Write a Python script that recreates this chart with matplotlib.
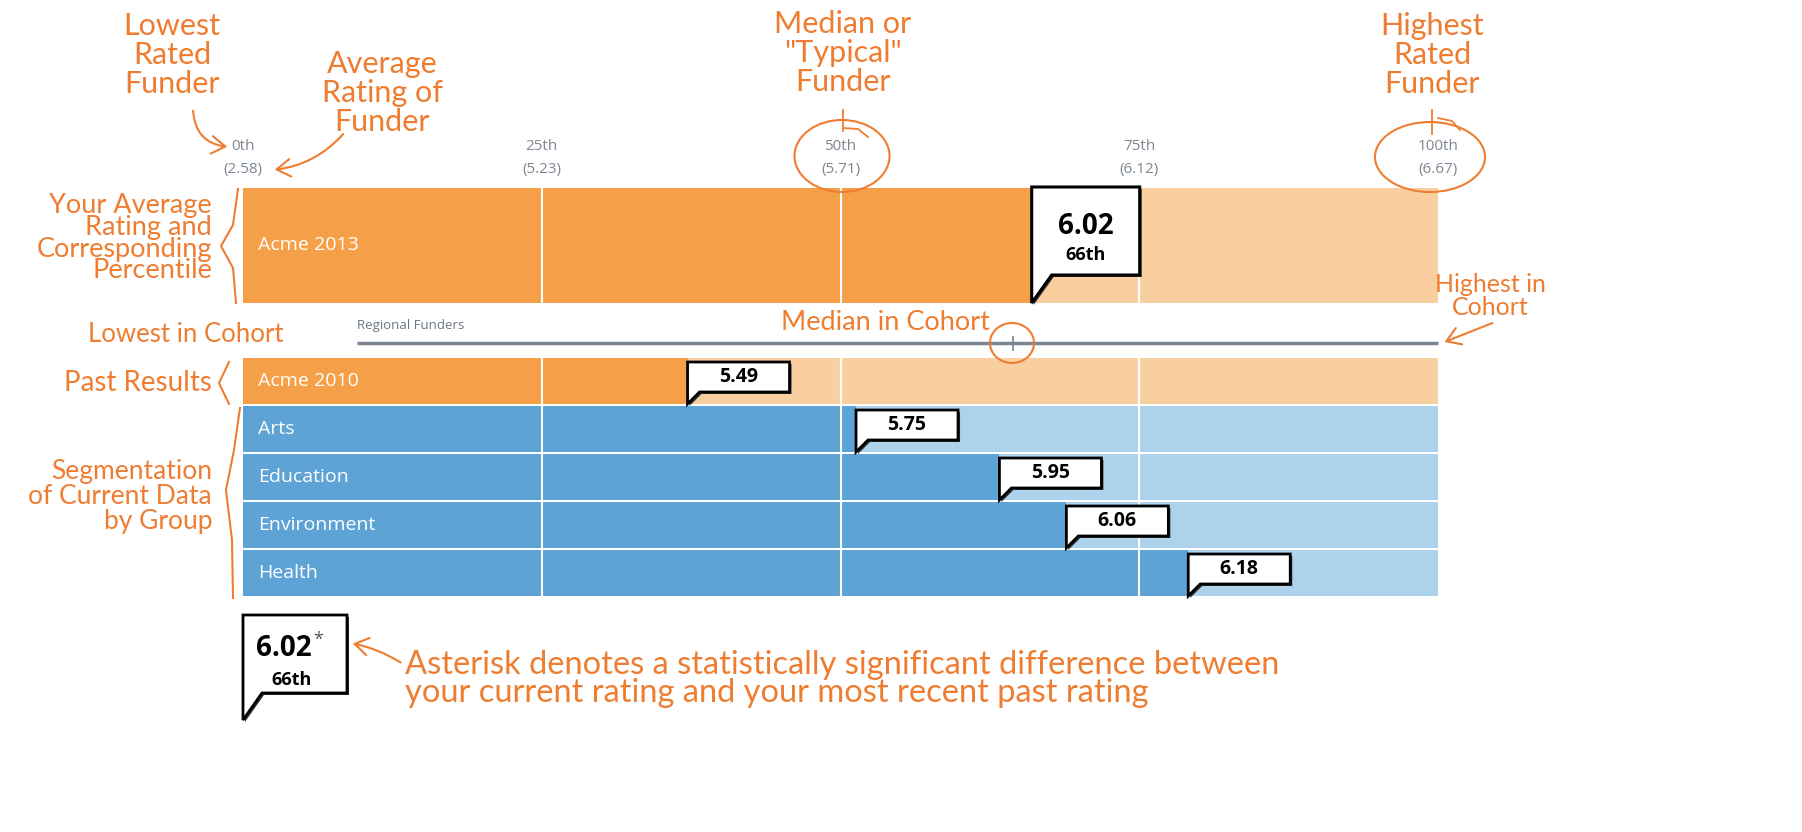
import matplotlib.pyplot as plt
from matplotlib.patches import Polygon, Ellipse, FancyArrowPatch

# данные
tick_pct = [0, 25, 50, 75, 100]
tick_names = ["0th", "25th", "50th", "75th", "100th"]
tick_vals = ["2.58", "5.23", "5.71", "6.12", "6.67"]

current_label = "Acme 2013"
current_value = 6.02
current_pct = 66

row_labels = ["Acme 2010", "Arts", "Education", "Environment", "Health"]
row_values = [5.49, 5.75, 5.95, 6.06, 6.18]
row_pct = [37.2, 51.3, 63.3, 68.9, 79.1]
row_kind = ["past", "group", "group", "group", "group"]

cohort_name = "Regional Funders"
cohort_low_pct = 9.5
cohort_high_pct = 100
cohort_median_pct = 64.4

# цвета
dark_or = "#F5A048"
light_or = "#F9CF9F"
dark_bl = "#5EA3D6"
light_bl = "#ADD2EC"
hand = "#EE7D31"
grey = "#7D8792"

W, H = 1802, 832
x0_px, x100_px = 243, 1438
ppp = (x100_px - x0_px) / 100.0   # пикселей на перцентиль

plt.rcParams['font.family'] = ['Open Sans', 'DejaVu Sans']
fig = plt.figure(figsize=(W / 100, H / 100), dpi=100)

ax = fig.add_axes([0, 0, 1, 1])
ax.set_xlim(-x0_px / ppp, (W - x0_px) / ppp)
ax.set_ylim(H, 0)
ax.axis("off")


def callout(v, top, bb, ybot, w_px, tw_px, lw=2):
    w = w_px / ppp
    tw = tw_px / ppp
    pts = [(v, top), (v + w, top), (v + w, bb), (v + tw, bb), (v, ybot)]
    sh = [(x + 2 / ppp, y + 2) for x, y in pts]
    ax.add_patch(Polygon(sh, closed=True, fc="#333333", ec="none", zorder=4))
    ax.add_patch(Polygon(pts, closed=True, fc="white", ec="black", lw=lw, zorder=5))
    return v + w / 2


# текущий год
top, h = 188, 115
ax.barh(top + h / 2, 100, height=h, left=0, color=light_or, zorder=1)
ax.barh(top + h / 2, current_pct, height=h, left=0, color=dark_or, zorder=1)
ax.vlines([25, 50, 75], top, top + h, color="white", lw=1.5, zorder=2)
ax.text(15 / ppp, top + h / 2, current_label, color="white", fontsize=14,
        va="center", ha="left", zorder=3)
cx = callout(current_pct, 187, 275, 303, 108, 20, lw=2.2)
ax.text(cx, 226, f"{current_value:.2f}", fontsize=20, fontweight="bold",
        ha="center", va="center", zorder=6)
ax.text(cx, 255, f"{current_pct}th", fontsize=13, fontweight="bold",
        ha="center", va="center", zorder=6)

# подписи перцентилей
for p, n, v in zip(tick_pct, tick_names, tick_vals):
    ax.text(p, 147, n, color=grey, fontsize=11, ha="center", va="center")
    ax.text(p, 170, f"({v})", color=grey, fontsize=11, ha="center", va="center")

# когорта
ax.hlines(343, cohort_low_pct, cohort_high_pct, color="#7A8591", lw=2.5)
ax.vlines(cohort_median_pct, 336, 351, color="#7A8591", lw=1.2)
ax.text(cohort_low_pct, 326, cohort_name, color="#6E7882", fontsize=9.5,
        ha="left", va="center")

# строки
row_top0, row_h, pitch = 358, 46, 48
for i, (lab, val, p, k) in enumerate(zip(row_labels, row_values, row_pct, row_kind)):
    t = row_top0 + i * pitch
    dc, lc = (dark_or, light_or) if k == "past" else (dark_bl, light_bl)
    ax.barh(t + row_h / 2, 100, height=row_h, left=0, color=lc, zorder=1)
    ax.barh(t + row_h / 2, p, height=row_h, left=0, color=dc, zorder=1)
    ax.vlines([25, 50, 75], t, t + row_h, color="white", lw=1.5, zorder=2)
    ax.text(15 / ppp, t + row_h / 2, lab, color="white", fontsize=14,
            va="center", ha="left", zorder=3)
    cx = callout(p, t + 4, t + 34, t + row_h, 102, 12)
    ax.text(cx, t + 19, f"{val:.2f}", fontsize=14, fontweight="bold",
            ha="center", va="center", zorder=6)

# рукописные пометки
an = fig.add_axes([0, 0, 1, 1], zorder=5)
an.set_xlim(0, W)
an.set_ylim(H, 0)
an.patch.set_alpha(0)
an.axis("off")


def note(x, y, s, size, ha="center", ls=1.2):
    an.text(x, y, s, ha=ha, va="center", linespacing=ls, color=hand,
            fontsize=size, family=["Lato", "DejaVu Sans"], fontweight="normal")


def arrow(p1, p2, rad=0.0):
    an.add_patch(FancyArrowPatch(p1, p2, connectionstyle=f"arc3,rad={rad}",
                                 arrowstyle="->,head_length=0.7,head_width=0.45",
                                 mutation_scale=14, color=hand, lw=1.5))


note(172, 55, "Lowest\nRated\nFunder", 22, ls=1.05)
arrow((193, 108), (230, 147), rad=0.45)
note(382, 93, "Average\nRating of\nFunder", 22, ls=1.05)
arrow((345, 132), (272, 170), rad=-0.2)

note(843, 53, "Median or\n\"Typical\"\nFunder", 22, ls=1.05)
an.plot([843, 843], [110, 131], color=hand, lw=1.3)
an.plot([843, 858, 868], [128, 129, 137], color=hand, lw=1.3)
an.add_patch(Ellipse((842, 156), 95, 72, fill=False, ec=hand, lw=1.5))

note(1432, 55, "Highest\nRated\nFunder", 22, ls=1.05)
an.plot([1432, 1432], [110, 134], color=hand, lw=1.3)
an.plot([1438, 1452, 1460], [118, 121, 130], color=hand, lw=1.3)
an.add_patch(Ellipse((1430, 157), 110, 70, fill=False, ec=hand, lw=1.5))

note(212, 238, "Your Average\nRating and\nCorresponding\nPercentile", 19.5, ha="right", ls=0.85)
an.plot([238, 233, 221, 233, 236], [189, 225, 246, 268, 303], color=hand, lw=1.5)

note(186, 334, "Lowest in Cohort", 18.5)
note(885, 323, "Median in Cohort", 19.5)
an.add_patch(Ellipse((1012, 343), 44, 40, fill=False, ec=hand, lw=1.5))
note(1490, 296, "Highest in\nCohort", 18, ls=0.95)
arrow((1495, 322), (1442, 343), rad=0.0)

note(212, 383, "Past Results", 20, ha="right")
an.plot([229, 219, 229], [362, 383, 404], color=hand, lw=1.5)

note(212, 497, "Segmentation\nof Current Data\nby Group", 19, ha="right", ls=1.0)
an.plot([240, 234, 226, 232, 233], [408, 450, 490, 540, 598], color=hand, lw=1.5)

# легенда со звёздочкой
leg = [(243, 615), (347, 615), (347, 693), (262, 693), (243, 720)]
an.add_patch(Polygon([(x + 2, y + 2) for x, y in leg], closed=True, fc="#333333", ec="none"))
an.add_patch(Polygon(leg, closed=True, fc="white", ec="black", lw=2))
an.text(284, 649, f"{current_value:.2f}", fontsize=20, fontweight="bold", ha="center", va="center")
an.text(318, 640, "*", fontsize=13, color="#555555", ha="center", va="center")
an.text(292, 680, f"{current_pct}th", fontsize=13, fontweight="bold", ha="center", va="center")
arrow((403, 664), (350, 643), rad=0.1)
note(405, 679, "Asterisk denotes a statistically significant difference between\n"
     "your current rating and your most recent past rating", 23.5, ha="left", ls=0.9)

fig.savefig("out.png", dpi=100)
